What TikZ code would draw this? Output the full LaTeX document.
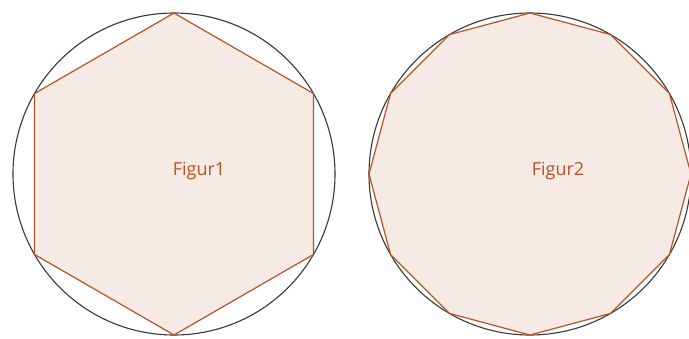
\documentclass[tikz,border=0pt]{standalone}
\usepackage{fontspec}
\setsansfont{Open Sans}
\definecolor{rust}{RGB}{183,83,38}
\definecolor{shell}{RGB}{245,234,228}
\definecolor{rim}{RGB}{55,55,55}
\tikzset{
  rimcircle/.style={circle, draw=rim, line width=1.1pt, minimum size=322pt, inner sep=0pt, outer sep=0pt},
  polyline/.style={draw=rust, fill=shell, line width=1.2pt, line join=miter},
  figlabel/.style={text=rust, font=\sffamily\fontsize{18}{22}\selectfont, anchor=base}
}
\begin{document}
\begin{tikzpicture}[x=1pt, y=-1pt]
  \useasboundingbox (0,0) rectangle (689,338);

  % circumcircles
  \node[rimcircle] (circA) at (174,174) {};
  \node[rimcircle] (circB) at (530,174) {};

  % hexagon in the left circle
  \draw[polyline] (circA.90) \foreach \a in {150,210,...,450} { -- (circA.\a) } -- cycle;

  % dodecagon in the right circle
  \draw[polyline] (circB.90) \foreach \a in {120,150,...,420} { -- (circB.\a) } -- cycle;

  \node[figlabel] (labA) at (199,175) {Figur1};
  \node[figlabel] (labB) at (558,175) {Figur2};
\end{tikzpicture}
\end{document}
